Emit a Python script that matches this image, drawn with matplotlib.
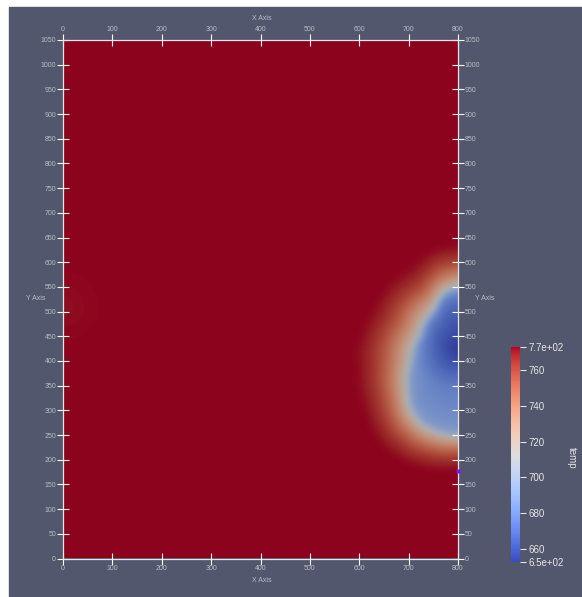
import numpy as np
import matplotlib
matplotlib.use("Agg")
import matplotlib.pyplot as plt
import matplotlib as mpl
from matplotlib.colors import ListedColormap, Normalize
from matplotlib.patches import Rectangle

# ---- data -----------------------------------------------------------------
T_MIN, T_MAX = 652.7, 772.8          # colour range of "temp"
T_FRONT = 706.0                      # temperature along the cold front

x_ticks = list(range(0, 801, 100))
y_ticks = list(range(0, 1051, 50))
cbar_ticks = [660, 680, 700, 720, 740, 760]

sink_center = (800.0, 410.0)
core_center = (800.0, 470.0)
# cold front traced along the right wall
front_x = [800, 772, 752, 724, 707, 699, 706, 730, 770, 800]
front_y = [548, 536, 500, 450, 400, 350, 300, 270, 252, 248]
# width of the warm halo beyond the front (deg: +90 up, 0 left, -90 down)
halo_angle = [-90, -45, 0, 45, 90]
halo_width = [80, 115, 135, 125, 100]

# faint warm spot on the left wall
spot_center = (0.0, 510.0)
spot_radius = 135.0
spot_dip = 2.0

probe_point = (800, 178)

# ---- field ----------------------------------------------------------------
step = 2.0
xs = np.arange(0, 800 + step, step)
ys = np.arange(0, 1050 + step, step)
X, Y = np.meshgrid(xs, ys)

cx, cy = sink_center
dx = cx - X
dy = Y - cy
phi = np.degrees(np.arctan2(dy, dx))
dist = np.hypot(dx, dy)

fx = np.asarray(front_x, float)
fy = np.asarray(front_y, float)
fphi = np.degrees(np.arctan2(fy - cy, cx - fx))
fr = np.hypot(cx - fx, fy - cy)
order = np.argsort(fphi)
r_front = np.interp(phi, fphi[order], fr[order])
width = np.interp(phi, halo_angle, halo_width)

s = np.clip(dist / r_front, 0, 1)
dc = np.hypot(X - core_center[0], Y - core_center[1])
core = np.clip(1.25 - dc / 200, 0.6, 1.0)
T_in = T_FRONT - (T_FRONT - T_MIN) * (1 - s) ** 0.28 * core

u = np.clip((dist - r_front) / width, 0, 1)
T_out = T_FRONT + (T_MAX - T_FRONT) * (1 - (1 - u) ** 2.2)

T = np.where(dist <= r_front, T_in, T_out)
ds = np.hypot(X - spot_center[0], Y - spot_center[1])
T = T - spot_dip * np.clip(1 - ds / spot_radius, 0, 1) ** 2


def smooth(a, sigma_cells):
    """Separable gaussian smoothing with edge padding."""
    r = int(3 * sigma_cells)
    k = np.exp(-0.5 * (np.arange(-r, r + 1) / sigma_cells) ** 2)
    k /= k.sum()
    p = np.pad(a, ((0, 0), (r, r)), mode="edge")
    a = np.apply_along_axis(lambda v: np.convolve(v, k, mode="valid"), 1, p)
    p = np.pad(a, ((r, r), (0, 0)), mode="edge")
    return np.apply_along_axis(lambda v: np.convolve(v, k, mode="valid"), 0, p)


T = smooth(T, 3.5)

# ---- figure ---------------------------------------------------------------
W, H = 582, 597
fig = plt.figure(figsize=(W / 100, H / 100), dpi=100, facecolor="white")
bg = "#52576e"
fig.patches.append(Rectangle((9 / W, 0), 1 - 9 / W, (H - 7) / H,
                             transform=fig.transFigure, color=bg, zorder=-10))

base = plt.get_cmap("coolwarm")
shaded = ListedColormap(base(np.linspace(0, 1, 256))[:, :3] * 0.78)
norm = Normalize(T_MIN, T_MAX)

font = "Liberation Sans"
tick_col = "#b9bcc6"

ax = fig.add_axes([63 / W, 38.5 / H, 395 / W, 518.5 / H])
ax.imshow(T, origin="lower", extent=[0, 800, 0, 1050], cmap=shaded, norm=norm,
          interpolation="bilinear", aspect="auto")
ax.set_xlim(0, 800)
ax.set_ylim(0, 1050)
ax.set_facecolor(bg)
for sp in ax.spines.values():
    sp.set_color("#e4e4ea")
    sp.set_linewidth(0.9)

ax.set_xticks(x_ticks)
ax.set_yticks(y_ticks)
ax.tick_params(direction="inout", length=9, width=0.8, color="white",
               top=True, right=True, labeltop=True, labelright=True,
               labelsize=5, labelcolor=tick_col, pad=0.5)
for lab in ax.get_xticklabels() + ax.get_yticklabels():
    lab.set_fontfamily(font)

ax.plot(*probe_point, marker="s", ms=2.6, color="#7a12ff", mec="none",
        clip_on=False, zorder=5)

ax_lbl = dict(fontsize=5, color=tick_col, family=font, ha="center", va="center")
fig.text(262 / W, 1 - 18 / H, "X Axis", **ax_lbl)
fig.text(262 / W, 1 - 580 / H, "X Axis", **ax_lbl)
fig.text(36 / W, 1 - 298 / H, "Y Axis", **ax_lbl)
fig.text(485 / W, 1 - 298 / H, "Y Axis", **ax_lbl)

# ---- colour legend --------------------------------------------------------
cax = fig.add_axes([511 / W, 35 / H, 9 / W, 215 / H])
cb = mpl.colorbar.ColorbarBase(cax, cmap=base, norm=norm, orientation="vertical")
cb.outline.set_visible(False)
cb.set_ticks([T_MIN] + cbar_ticks + [T_MAX])
cb.set_ticklabels(["6.5e+02"] + [str(t) for t in cbar_ticks] + ["7.7e+02"])
cax.tick_params(direction="out", length=4, width=0.8, color="#e6e6e6",
                labelsize=7, labelcolor="#e6e6e6", pad=2)
for lab in cax.get_yticklabels():
    lab.set_fontfamily(font)
fig.text(572 / W, 1 - 458 / H, "temp", fontsize=7, color="#e6e6e6",
         family=font, rotation=-90, ha="center", va="center")

fig.savefig("out.png", dpi=100, facecolor="white")
